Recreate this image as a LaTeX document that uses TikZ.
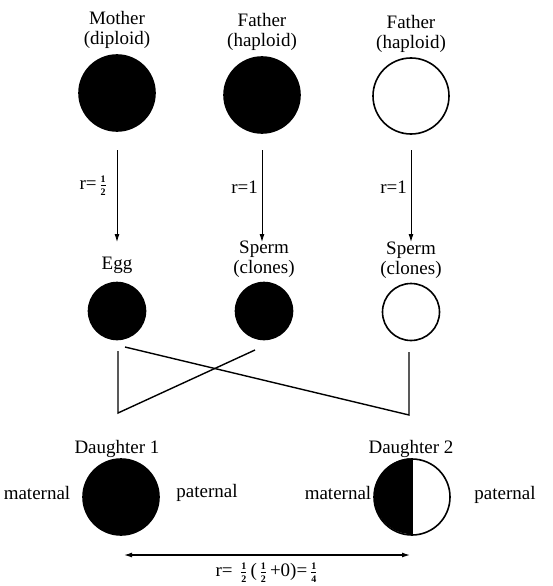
\documentclass[tikz,border=0pt]{standalone}
\usepackage{fontspec}
\setmainfont{Liberation Serif}
\usetikzlibrary{arrows.meta}
\newcommand{\myfr}[2]{\ensuremath{\,\frac{\mbox{\fontsize{10}{10}\selectfont\bfseries #1}}{\mbox{\fontsize{10}{10}\selectfont\bfseries #2}}\,}}
\begin{document}
\begin{tikzpicture}[x=1pt,y=-1pt,
  lbl/.style={font=\fontsize{19}{20}\selectfont, align=center, inner sep=0pt},
  big/.style={circle, draw=black, line width=1.6pt, minimum size=76pt, inner sep=0pt},
  small/.style={circle, draw=black, line width=1.6pt, minimum size=57pt, inner sep=0pt},
  full/.style={fill=black},
  empty/.style={fill=white},
  arr/.style={-{Latex[length=8pt,width=5pt]}, line width=0.9pt},
  cross/.style={line width=1.4pt},
  dbl/.style={{Latex[length=8pt,width=5pt]}-{Latex[length=8pt,width=5pt]}, line width=1.2pt}
]
\useasboundingbox (0,0) rectangle (552,586);
% top labels
\node[lbl] (lm) at (117,30) {Mother\\(diploid)};
\node[lbl] (lf1) at (262,32) {Father\\(haploid)};
\node[lbl] (lf2) at (411,34) {Father\\(haploid)};
% top circles
\node[big,full] (mom) at (117,93) {};
\node[big,full] (fa1) at (262,95) {};
\node[big,empty] (fa2) at (411,96) {};
% gametes
\node[small,full] (egg) at (117,311) {};
\node[small,full] (sp1) at (264,311) {};
\node[small,empty] (sp2) at (411,312) {};
\node[lbl] (legg) at (117,265) {Egg};
\node[lbl] (lsp1) at (264,259) {Sperm\\(clones)};
\node[lbl] (lsp2) at (411,260) {Sperm\\(clones)};
% arrows
\coordinate (a1s) at (117,150); \coordinate (a1e) at (117,242);
\coordinate (a2s) at (262,150); \coordinate (a2e) at (262,242);
\coordinate (a3s) at (411,150); \coordinate (a3e) at (411,242);
\draw[arr] (a1s) -- (a1e);
\draw[arr] (a2s) -- (a2e);
\draw[arr] (a3s) -- (a3e);
\node[lbl, anchor=east] (r1) at (110,186) {r=\myfr{1}{2}};
\node[lbl, anchor=east] (r2) at (258,187) {r=1};
\node[lbl, anchor=east] (r3) at (407,187) {r=1};
% crossing lines
\coordinate (c1) at (118,351); \coordinate (c2) at (118,413); \coordinate (c3) at (255,350);
\coordinate (c4) at (125,347); \coordinate (c5) at (409,415); \coordinate (c6) at (409,352);
\draw[cross] (c1) -- (c2) -- (c3);
\draw[cross] (c4) -- (c5) -- (c6);
% daughters
\node[lbl] (ld1) at (117,449) {Daughter 1};
\node[lbl] (ld2) at (411,449) {Daughter 2};
\node[big,full] (d1) at (121,497) {};
\node[big,empty] (d2) at (412,497) {};
\fill[black] (d2.north) arc[start angle=90, end angle=270, radius=38pt] -- cycle;
\draw[line width=1.6pt] (d2.north) -- (d2.south);
\node[lbl] (m1) at (37,493) {maternal};
\node[lbl] (p1) at (207,493) {paternal};
\node[lbl] (m2) at (338,493) {maternal};
\node[lbl] (p2) at (505,495) {paternal};
% relatedness
\coordinate (b1) at (124,555); \coordinate (b2) at (410,555);
\draw[dbl] (b1) -- (b2);
\node[lbl] (rr) at (268,573) {r= \myfr{1}{2}(\myfr{1}{2}+0)=\myfr{1}{4}};
\end{tikzpicture}
\end{document}
